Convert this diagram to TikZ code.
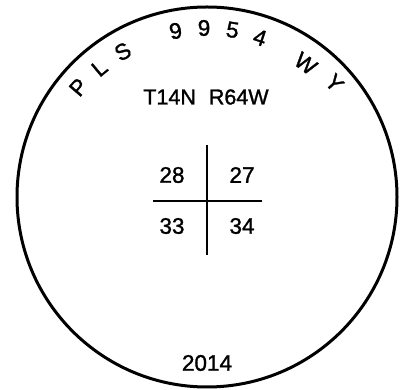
\documentclass[tikz,border=0pt]{standalone}
\usepackage{fontspec}
\setmainfont{Liberation Sans}[FakeBold=1.3]
\begin{document}
\begin{tikzpicture}[x=1pt,y=1pt,
  lbl/.style={inner sep=0pt, font=\fontsize{22.5}{24}\selectfont},
  hdr/.style={inner sep=0pt, font=\fontsize{21.5}{24}\selectfont},
  rim/.style={line width=3pt},
  gridline/.style={line width=2pt}]
\useasboundingbox (0,0) rectangle (407,390);
\coordinate (c) at (207,193);
\draw[rim] (c) circle[radius=190];
\foreach \t/\a/\r [count=\i] in {P/139.5/169, L/129.8/168, S/120.1/168, 9/100.7/169, 9/91/169, 5/81.3/169, 4/71.6/168, W/53.5/166, Y/41.8/171}
  \node[lbl, rotate=\a-90] (arc\i) at ([shift={(\a:\r)}]c) {\t};
\node[hdr] (twp) at (206,293) {T14N\hspace{13pt}R64W};
\coordinate (vt) at (207,245);
\coordinate (vb) at (207,135);
\coordinate (hl) at (153,189.3);
\coordinate (hr) at (262,189.3);
\draw[gridline] (vt) -- (vb);
\draw[gridline] (hl) -- (hr);
\node[lbl] (s28) at (172,215) {28};
\node[lbl] (s27) at (242,215) {27};
\node[lbl] (s33) at (172,164) {33};
\node[lbl] (s34) at (242,164) {34};
\node[lbl] (yr) at (207,27) {2014};
\end{tikzpicture}
\end{document}
